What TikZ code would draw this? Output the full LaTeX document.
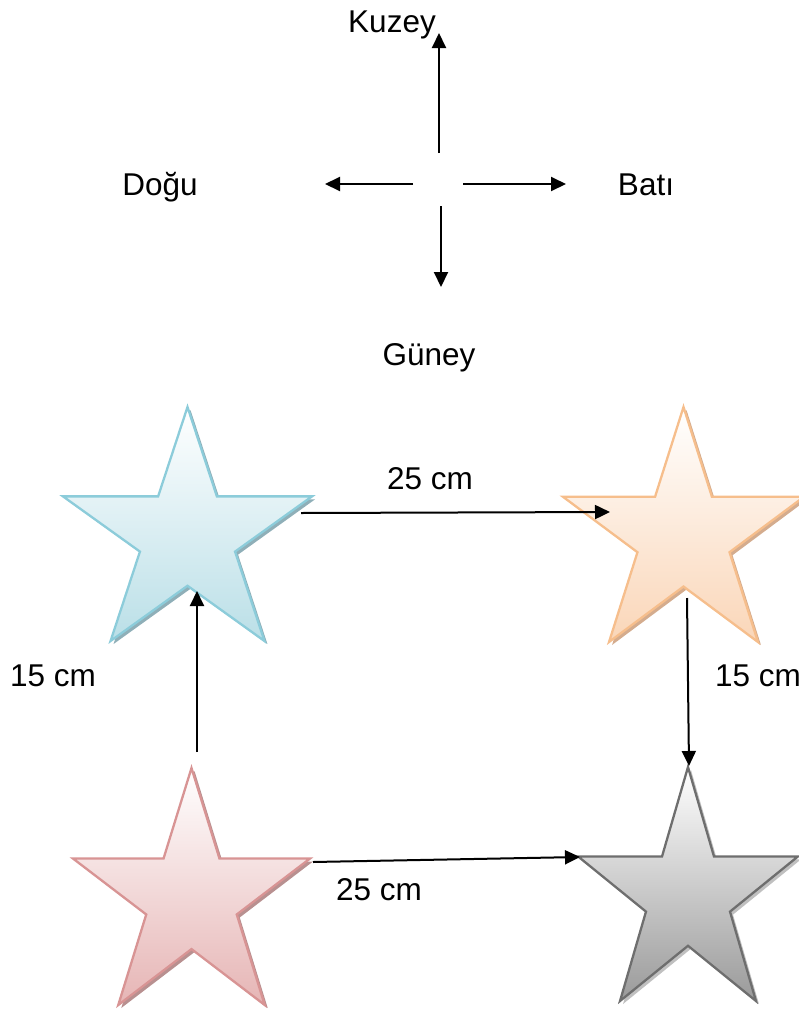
\documentclass[tikz,border=0pt]{standalone}
\usepackage{fontspec}
\setmainfont{Liberation Sans}
\usetikzlibrary{arrows.meta,calc}
\definecolor{bluestroke}{RGB}{140,204,218}
\definecolor{bluefill}{RGB}{186,223,231}
\definecolor{blueshadow}{RGB}{143,175,184}
\definecolor{orangestroke}{RGB}{246,190,140}
\definecolor{orangefill}{RGB}{250,214,184}
\definecolor{orangeshadow}{RGB}{212,172,142}
\definecolor{pinkstroke}{RGB}{216,148,148}
\definecolor{pinkfill}{RGB}{230,181,181}
\definecolor{pinkshadow}{RGB}{184,144,144}
\definecolor{graystroke}{RGB}{110,110,110}
\definecolor{grayfill}{RGB}{154,154,154}
\definecolor{grayshadow}{RGB}{192,192,192}
\def\starpath{(0.5,0) -- (0.618,0.382) -- (1,0.382) -- (0.691,0.618) -- (0.809,1) -- (0.5,0.764) -- (0.191,1) -- (0.309,0.618) -- (0,0.382) -- (0.382,0.382) -- cycle}
\newcommand\mystar[8]{%
  \fill[#8, shift={(#2+3,#3+3)}, xscale=#4, yscale=#5] \starpath;
  \draw[draw=#6, line width=2.3pt, line join=miter, top color=white, bottom color=#7, shift={(#2,#3)}, xscale=#4, yscale=#5] \starpath;
  \node[minimum width=#4pt, minimum height=#5pt, inner sep=0pt, outer sep=0pt, anchor=north west] (#1) at (#2,#3) {};
}
\begin{document}
\begin{tikzpicture}[x=1pt,y=-1pt,
  lbl/.style={anchor=base, inner sep=0pt, font=\fontsize{31.5}{37}\selectfont},
  arr/.style={line width=2pt, -{Triangle[length=15pt,width=14pt]}}]
\useasboundingbox (0,0) rectangle (799,1010);
\clip (0,0) rectangle (799,1010);
% compass
\coordinate (nS) at (439,153); \coordinate (nE) at (439,33);
\coordinate (wS) at (413,184); \coordinate (wE) at (325,184);
\coordinate (eS) at (463,184); \coordinate (eE) at (566,184);
\coordinate (sS) at (441,206); \coordinate (sE) at (441,287);
\draw[arr] (nS) -- (nE);
\draw[arr] (wS) -- (wE);
\draw[arr] (eS) -- (eE);
\draw[arr] (sS) -- (sE);
\node[lbl] (kuzey) at (392,32) {Kuzey};
\node[lbl] (dogu) at (160,195) {Doğu};
\node[lbl] (bati) at (646,195) {Batı};
\node[lbl] (guney) at (429,365) {Güney};
% stars
\mystar{blue}{63}{407}{249}{234}{bluestroke}{bluefill}{blueshadow}
\mystar{orange}{563}{407}{241}{235}{orangestroke}{orangefill}{orangeshadow}
\mystar{pink}{73}{768}{237}{237}{pinkstroke}{pinkfill}{pinkshadow}
\mystar{gray}{578}{767}{220}{234}{graystroke}{grayfill}{grayshadow}
% connectors
\draw[arr] ($(blue.north west)+(238,106)$) -- ($(orange.north west)+(47,105)$);
\draw[arr] ($(orange.north west)+(124,191)$) -- ($(gray.north west)+(111,-1)$);
\draw[arr] ($(pink.north west)+(124,-16)$) -- ($(blue.north west)+(134,184)$);
\draw[arr] ($(pink.north west)+(240,94)$) -- ($(gray.north west)+(2,90)$);
% labels
\node[lbl] (t25) at (430,489) {25 cm};
\node[lbl] (l15) at (53,686) {15 cm};
\node[lbl] (r15) at (758,686) {15 cm};
\node[lbl] (b25) at (379,900) {25 cm};
\end{tikzpicture}
\end{document}
